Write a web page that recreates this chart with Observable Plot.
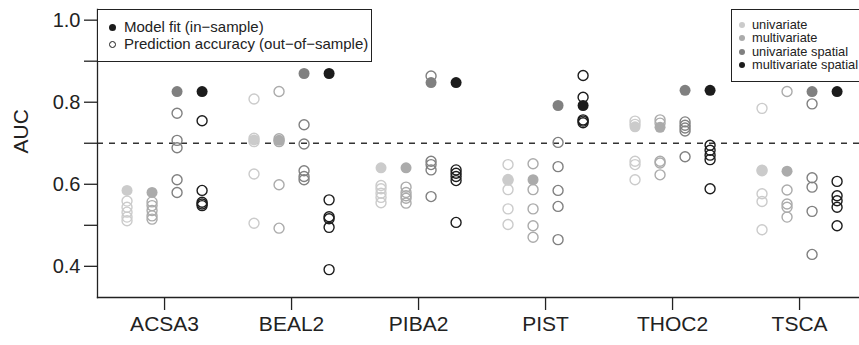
<!DOCTYPE html>
<html><head><meta charset="utf-8">
<script src="https://cdn.jsdelivr.net/npm/d3@7"></script>
<script src="https://cdn.jsdelivr.net/npm/@observablehq/plot@0.6"></script>
<style>
body{margin:0;background:#fff;font-family:"Liberation Sans",Arial,sans-serif;}
#wrap{position:relative;width:859px;height:345px;overflow:hidden;background:#fff;}
.legend{position:absolute;background:#fff;border:1.3px solid #222;box-sizing:border-box;color:#222;}
.item{position:absolute;white-space:nowrap;}
.sw{position:absolute;border-radius:50%;box-sizing:border-box;}
</style></head><body><div id="wrap"></div><script>
const species = ["ACSA3", "BEAL2", "PIBA2", "PIST", "THOC2", "TSCA"];
const models = ["univariate", "multivariate", "univariate spatial", "multivariate spatial"];
const modelColors = ["#cbcbcb", "#ababab", "#808080", "#1c1c1c"];
const sampleLegend = ["Model fit (in\u2212sample)", "Prediction accuracy (out\u2212of\u2212sample)"];
const yTicks = [0.4, 0.5, 0.6, 0.7, 0.8, 0.9, 1.0];
const threshold = 0.7;

// In-sample model fit (one value per species)
const fitUnivariate = [0.585, 0.708, 0.640, 0.612, 0.740, 0.635];
const fitMultivariate = [0.580, 0.707, 0.640, 0.611, 0.739, 0.632];
const fitUnivariateSpatial = [0.826, 0.870, 0.848, 0.792, 0.829, 0.826];
const fitMultivariateSpatial = [0.826, 0.870, 0.848, 0.792, 0.829, 0.826];

// Out-of-sample prediction accuracy (five folds per species)
const predUnivariate = [
  [0.559, 0.544, 0.532, 0.520, 0.511],
  [0.808, 0.712, 0.704, 0.625, 0.505],
  [0.597, 0.589, 0.578, 0.568, 0.555],
  [0.648, 0.610, 0.587, 0.540, 0.502],
  [0.754, 0.746, 0.656, 0.648, 0.611],
  [0.785, 0.633, 0.577, 0.558, 0.489]
];
const predMultivariate = [
  [0.557, 0.548, 0.536, 0.523, 0.515],
  [0.826, 0.711, 0.704, 0.599, 0.493],
  [0.593, 0.580, 0.572, 0.566, 0.554],
  [0.650, 0.587, 0.540, 0.499, 0.471],
  [0.757, 0.749, 0.656, 0.652, 0.623],
  [0.826, 0.586, 0.552, 0.544, 0.520]
];
const predUnivariateSpatial = [
  [0.773, 0.707, 0.689, 0.611, 0.580],
  [0.745, 0.698, 0.633, 0.619, 0.611],
  [0.864, 0.656, 0.648, 0.635, 0.570],
  [0.702, 0.643, 0.585, 0.546, 0.465],
  [0.752, 0.744, 0.737, 0.730, 0.667],
  [0.796, 0.616, 0.593, 0.534, 0.429]
];
const predMultivariateSpatial = [
  [0.755, 0.585, 0.556, 0.552, 0.548],
  [0.562, 0.521, 0.516, 0.495, 0.392],
  [0.635, 0.627, 0.619, 0.609, 0.507],
  [0.865, 0.812, 0.757, 0.754, 0.750],
  [0.695, 0.683, 0.671, 0.660, 0.589],
  [0.607, 0.572, 0.560, 0.544, 0.499]
];

const fitSets = [fitUnivariate, fitMultivariate, fitUnivariateSpatial, fitMultivariateSpatial];
const predSets = [predUnivariate, predMultivariate, predUnivariateSpatial, predMultivariateSpatial];

const fit = [], pred = [];
models.forEach((m, mi) => species.forEach((s, si) => {
  fit.push({species: s, model: m, auc: fitSets[mi][si]});
  predSets[mi][si].forEach(v => pred.push({species: s, model: m, auc: v}));
}));

const spread = 0.197;
const xPos = d => species.indexOf(d.species) + (models.indexOf(d.model) - 1.5) * spread;
const font = '"Liberation Sans", Arial, sans-serif';

const chart = Plot.plot({
  width: 859, height: 345,
  marginLeft: 97, marginRight: 0, marginTop: 9, marginBottom: 48,
  style: {fontFamily: font, fontSize: "18px", color: "#222", background: "#fff"},
  x: {domain: [-0.528, 5.472], axis: null},
  y: {domain: [0.324, 1.026], axis: null},
  color: {domain: models, range: modelColors},
  marks: [
    Plot.ruleY([threshold], {stroke: "#333", strokeWidth: 1.3, strokeDasharray: "6,6"}),
    Plot.dot(pred, {x: xPos, y: "auc", r: 5, stroke: "model", strokeWidth: 1.4, fill: "none"}),
    Plot.dot(fit, {x: xPos, y: "auc", r: 5.5, fill: "model", stroke: "none"}),
    Plot.axisY({ticks: yTicks, label: null, tickSize: 13, tickPadding: 4, stroke: "#222", strokeWidth: 1.3,
      tickFormat: d => (Math.round(d * 10) % 2 === 0 ? d.toFixed(1) : ""), fontSize: 20, fill: "#222"}),
    Plot.axisX({ticks: species.map((s, i) => i), label: null, tickSize: 13, tickPadding: 6, stroke: "#222", strokeWidth: 1.3,
      tickFormat: i => species[i], fontSize: 21, fill: "#222"}),
    Plot.frame({anchor: "left", stroke: "#222", strokeWidth: 1.3}),
    Plot.frame({anchor: "bottom", stroke: "#222", strokeWidth: 1.3}),
    Plot.text(["AUC"], {frameAnchor: "left", dx: -76, rotate: -90, fontSize: 21, fill: "#222"})
  ]
});

const wrap = document.getElementById("wrap");
wrap.appendChild(chart);

function makeLegend(opts) {
  const box = document.createElement("div");
  box.className = "legend";
  Object.assign(box.style, {left: opts.left + "px", top: opts.top + "px", width: opts.width + "px", height: opts.height + "px", fontSize: opts.fontSize + "px"});
  opts.items.forEach((it, i) => {
    const y = opts.rows[i];
    const sw = document.createElement("div");
    sw.className = "sw";
    const d = opts.r * 2;
    Object.assign(sw.style, {left: (opts.dotX - opts.r) + "px", top: (y - opts.r) + "px", width: d + "px", height: d + "px"});
    if (it.open) sw.style.border = "1.2px solid " + it.color; else sw.style.background = it.color;
    box.appendChild(sw);
    const t = document.createElement("div");
    t.className = "item";
    t.textContent = it.label;
    Object.assign(t.style, {left: opts.textX + "px", top: (y - opts.fontSize * 0.6) + "px", lineHeight: (opts.fontSize * 1.2) + "px"});
    box.appendChild(t);
  });
  wrap.appendChild(box);
}

makeLegend({left: 97, top: 9, width: 275, height: 53, fontSize: 15, r: 3.5, dotX: 14, textX: 26, rows: [17, 34],
  items: [{label: sampleLegend[0], color: "#1c1c1c", open: false}, {label: sampleLegend[1], color: "#1c1c1c", open: true}]});
makeLegend({left: 731, top: 9, width: 140, height: 73, fontSize: 12.8, r: 3, dotX: 10, textX: 20, rows: [14.5, 28, 41.5, 55],
  items: models.map((m, i) => ({label: m, color: modelColors[i], open: false}))});
</script></body></html>
